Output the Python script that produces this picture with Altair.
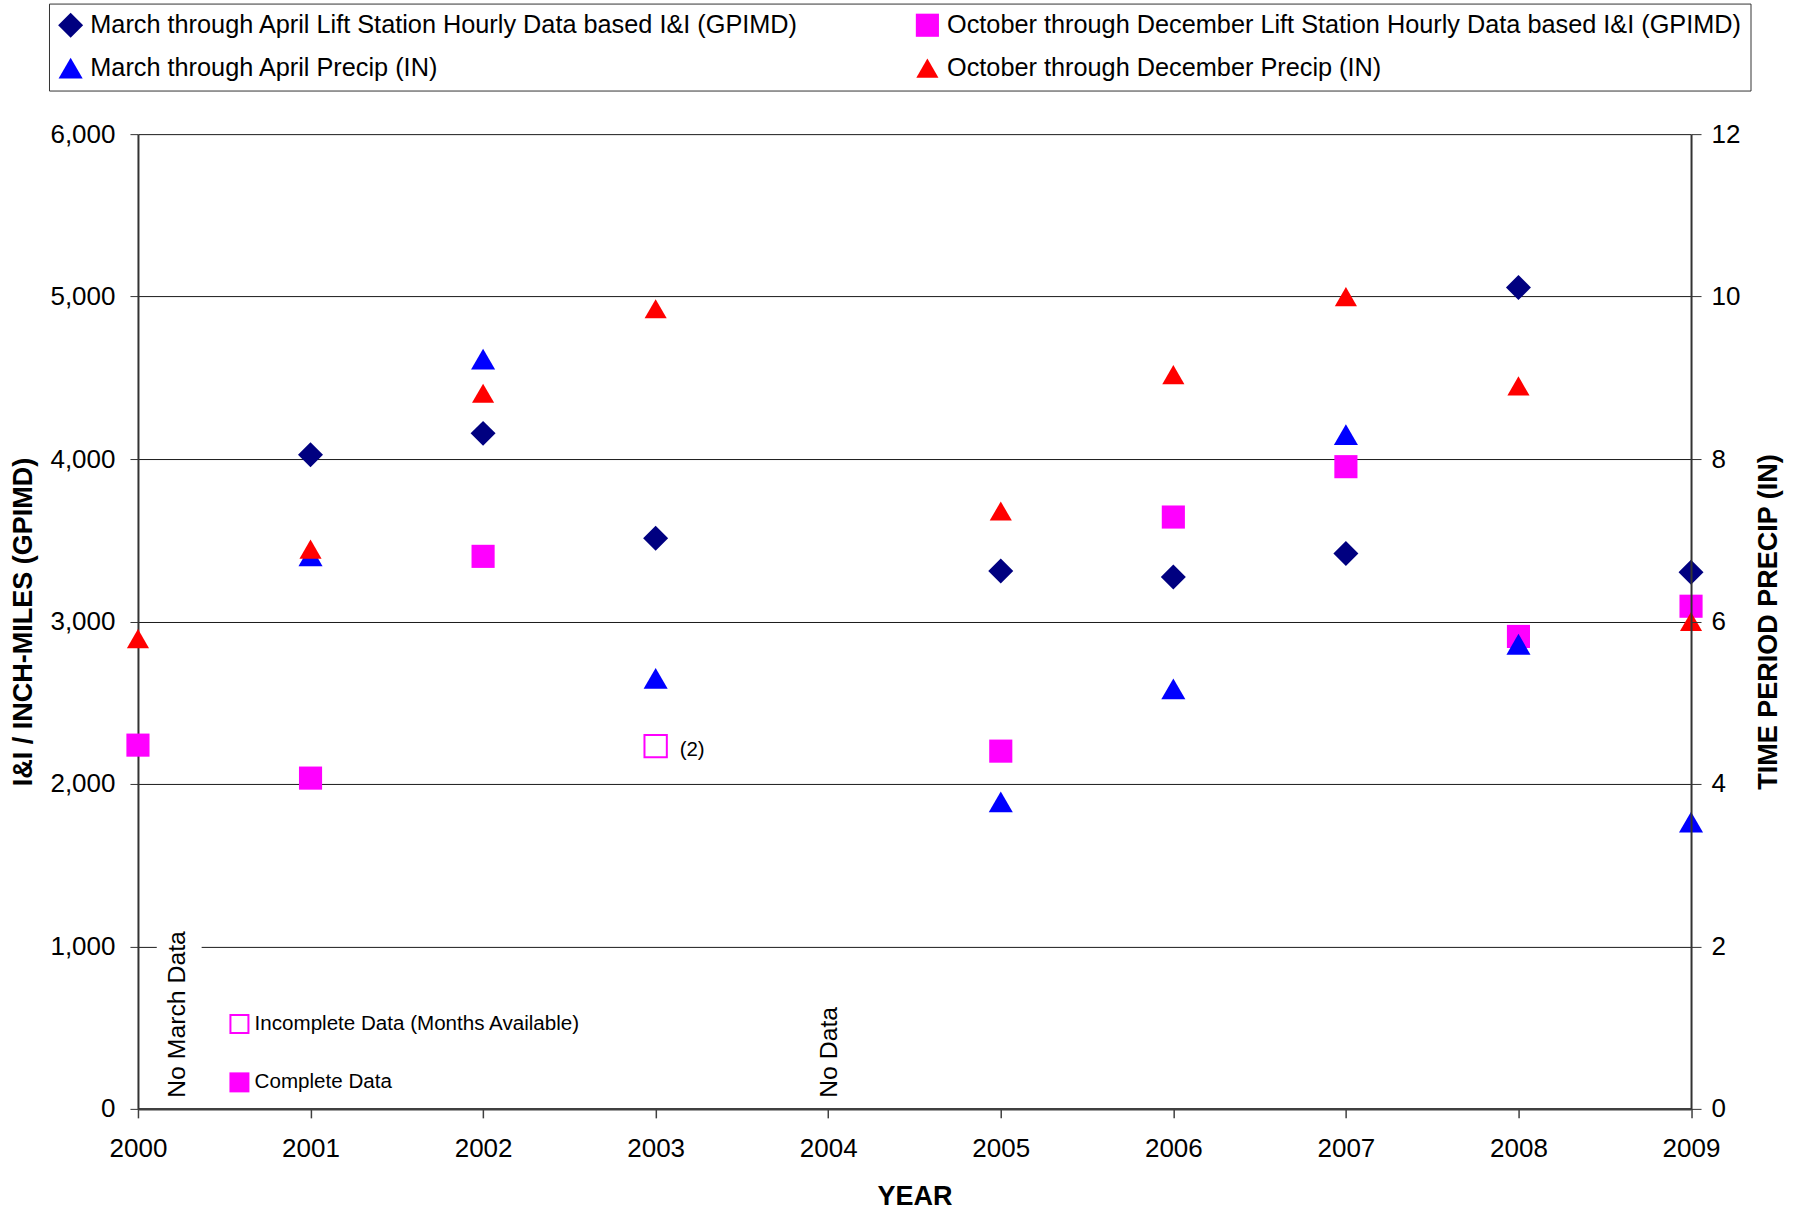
import altair as alt
import pandas as pd

# ---- values ---------------------------------------------------------------
years = [2000, 2001, 2002, 2003, 2004, 2005, 2006, 2007, 2008, 2009]
mar_apr_ii = [None, 4026, 4158, 3512, None, 3311, 3274, 3418, 5056, 3303]
oct_dec_ii = [2239, 2036, 3401, 2233, None, 2202, 3643, 3953, 2908, 3094]
oct_dec_months = [3, 3, 3, 2, None, 3, 3, 3, 3, 3]  # months of data available
mar_apr_precip = [None, 6.81, 9.23, 5.30, None, 3.78, 5.17, 8.30, 5.72, 3.53]
oct_dec_precip = [5.79, 6.89, 8.81, 9.85, None, 7.36, 9.04, 10.00, 8.90, 6.00]

MA_II = "March through April Lift Station Hourly Data based I&I (GPIMD)"
OD_II = "October through December Lift Station Hourly Data based I&I (GPIMD)"
MA_P = "March through April Precip (IN)"
OD_P = "October through December Precip (IN)"

# legend fills column by column: March entries left, October entries right
series_names = [MA_II, MA_P, OD_II, OD_P]
series_colors = ["#000080", "#0000FF", "#FF00FF", "#FF0000"]
series_shapes = ["diamond", "triangle-up", "square", "triangle-up"]
series_sizes = [625, 490, 625, 490]

note_text = ["No March Data", "No Data"]
note_year = [2000.234, 2004.009]
note_value = [68, 68]

key_labels = ["Incomplete Data (Months Available)", "Complete Data"]
key_complete = [False, True]
key_year = [2000.588, 2000.588]
key_value = [523, 163]

FONT = "Liberation Sans"

# ---- tables ---------------------------------------------------------------
ii_rows = []
for y, v in zip(years, mar_apr_ii):
    if v is not None:
        ii_rows.append({"year": y, "series": MA_II, "value": v,
                        "months": None, "status": "complete"})
for y, v, m in zip(years, oct_dec_ii, oct_dec_months):
    if v is not None:
        ii_rows.append({"year": y, "series": OD_II, "value": v,
                        "months": m, "status": "complete" if m == 3 else "incomplete"})
ii_df = pd.DataFrame(ii_rows)

precip_rows = []
for name, vals in ((MA_P, mar_apr_precip), (OD_P, oct_dec_precip)):
    for y, v in zip(years, vals):
        if v is not None:
            precip_rows.append({"year": y, "series": name, "value": v})
precip_df = pd.DataFrame(precip_rows)

notes_df = pd.DataFrame({"x": note_year, "y": note_value, "text": note_text})
key_df = pd.DataFrame({"x": key_year, "y": key_value, "label": key_labels,
                       "complete": key_complete})

# ---- shared encodings -----------------------------------------------------
x_axis = alt.Axis(
    title="YEAR", values=years, format="d", grid=False,
    labelFontSize=26, labelPadding=17.5, labelFlush=False, labelOverlap=False,
    tickSize=9, tickColor="#404040", tickWidth=1.5,
    domainColor="#404040", domainWidth=2.5,
    titleFontSize=27, titleFontWeight="bold", titlePadding=22.5,
)
x_scale = alt.Scale(domain=[2000, 2009], nice=False, zero=False)

left_axis = alt.Axis(
    title="I&I / INCH-MILES (GPIMD)", values=[0, 1000, 2000, 3000, 4000, 5000, 6000],
    format=",d", grid=True, gridColor="#1a1a1a", gridWidth=1,
    labelFontSize=26, labelPadding=15, tickSize=8, tickColor="#333333",
    domainColor="#333333", domainWidth=2,
    titleFontSize=27, titleFontWeight="bold", titlePadding=12,
)
left_scale = alt.Scale(domain=[0, 6000], nice=False)

right_axis = alt.Axis(
    title="TIME PERIOD PRECIP (IN)", orient="right", values=[0, 2, 4, 6, 8, 10, 12],
    grid=False, labelFontSize=26, labelPadding=10, tickSize=10,
    tickColor="#333333", domainColor="#333333", domainWidth=2, zindex=1,
    titleFontSize=27, titleFontWeight="bold", titleAngle=270,
    titleBaseline="top", titlePadding=15.5,
)
right_scale = alt.Scale(domain=[0, 12], nice=False)

legend = alt.Legend(
    title=None, orient="none", legendX=-89, legendY=-130.6, columns=2,
    labelFont=FONT, labelFontSize=25.3, labelColor="black", labelLimit=2000,
    symbolSize=170, symbolStrokeWidth=0, padding=9, strokeColor="#333333",
    fillColor="white", rowPadding=17, columnPadding=116, labelOffset=7,
)
color = alt.Color("series:N", scale=alt.Scale(domain=series_names, range=series_colors),
                  legend=legend)
shape = alt.Shape("series:N", scale=alt.Scale(domain=series_names, range=series_shapes),
                  legend=legend)
size = alt.Size("series:N", scale=alt.Scale(domain=series_names, range=series_sizes),
                legend=None)


def xe(field):
    return alt.X(field, scale=x_scale, axis=x_axis)


def yl(field):
    return alt.Y(field, scale=left_scale, axis=left_axis)


# ---- left-axis layers -----------------------------------------------------
note_bg = alt.Chart(notes_df).transform_filter("datum.text == 'No March Data'").transform_calculate(
    x0="datum.x - 0.125", x1="datum.x + 0.135", y0="datum.y - 20", y1="datum.y + 1040"
).mark_rect(color="white").encode(
    x=xe("x0:Q"), x2="x1:Q", y=yl("y0:Q"), y2="y1:Q"
)

ii_points = alt.Chart(ii_df).transform_filter("datum.status == 'complete'").mark_point(
    filled=True, opacity=1, strokeWidth=0
).encode(x=xe("year:Q"), y=yl("value:Q"), color=color, shape=shape, size=size)

ii_partial = alt.Chart(ii_df).transform_filter("datum.status == 'incomplete'").mark_point(
    shape="square", filled=False, size=500, strokeWidth=2, color="#FF00FF", opacity=1
).encode(x=xe("year:Q"), y=yl("value:Q"))

ii_months = alt.Chart(ii_df).transform_filter("datum.status == 'incomplete'").transform_calculate(
    lab="'(' + datum.months + ')'"
).mark_text(align="left", baseline="middle", dx=24, dy=4, font=FONT, fontSize=20.5,
            color="black").encode(x=xe("year:Q"), y=yl("value:Q"), text="lab:N")

notes = alt.Chart(notes_df).mark_text(
    angle=270, align="left", baseline="middle", font=FONT, fontSize=24.8, color="black"
).encode(x=xe("x:Q"), y=yl("y:Q"), text="text:N")

key_hollow = alt.Chart(key_df).transform_filter("!datum.complete").mark_point(
    shape="square", filled=False, size=324, strokeWidth=2, color="#FF00FF", opacity=1
).encode(x=xe("x:Q"), y=yl("y:Q"))

key_filled = alt.Chart(key_df).transform_filter("datum.complete").mark_point(
    shape="square", filled=True, size=400, strokeWidth=0, color="#FF00FF", opacity=1
).encode(x=xe("x:Q"), y=yl("y:Q"))

key_text = alt.Chart(key_df).transform_calculate(lx="datum.x + 0.088").mark_text(
    align="left", baseline="middle", font=FONT, fontSize=20.6, color="black"
).encode(x=xe("lx:Q"), y=yl("y:Q"), text="label:N")

left_part = alt.layer(note_bg, ii_points, ii_partial, ii_months, notes,
                      key_hollow, key_filled, key_text)

# ---- right-axis layer -----------------------------------------------------
precip_points = alt.Chart(precip_df).mark_point(filled=True, opacity=1, strokeWidth=0).encode(
    x=xe("year:Q"),
    y=alt.Y("value:Q", scale=right_scale, axis=right_axis),
    color=color, shape=shape, size=size,
)

chart = alt.layer(left_part, precip_points).resolve_scale(y="independent").properties(
    width=1553.5,
    height=975,
    padding={"left": 138, "top": 134, "right": 107, "bottom": 101},
    autosize=alt.AutoSizeParams(type="none"),
    background="white",
).configure_view(stroke=None).configure_axis(
    labelFont=FONT, titleFont=FONT, labelColor="black", titleColor="black"
)

chart.save("out.html", embed_options={"renderer": "svg", "actions": False})
